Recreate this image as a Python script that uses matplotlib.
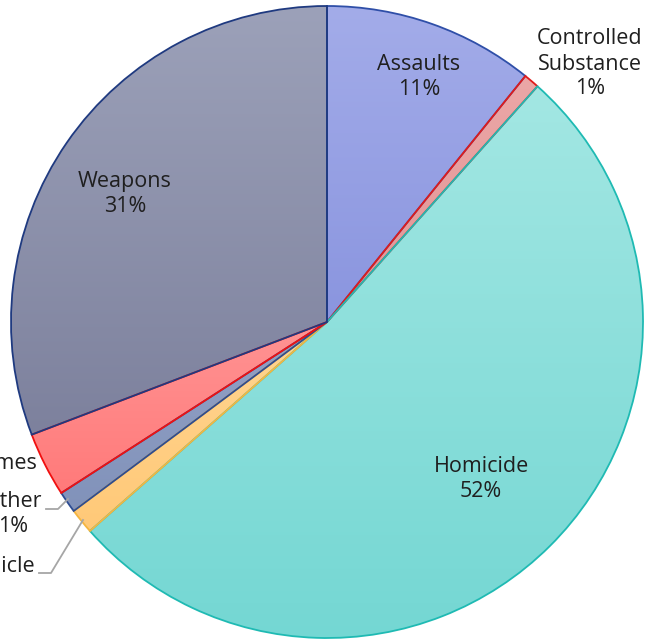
import numpy as np
import matplotlib
matplotlib.use("Agg")
import matplotlib.pyplot as plt
from matplotlib.colors import to_rgb

plt.rcParams['font.family'] = ['Open Sans', 'DejaVu Sans']

categories = ["Assaults", "Controlled\nSubstance", "Homicide", "Vehicle", "Other", "Sex Crimes", "Weapons"]
shares = [10.8, 0.8, 51.9, 1.3, 1.1, 3.3, 30.8]
pct_labels = ["11%", "1%", "52%", "1%", "1%", "3%", "31%"]

# top / bottom gradient colours and edge colour per slice
top_cols = ["#a3ace9", "#eba7a7", "#a3e7e3", "#ffd591", "#93a2c6", "#ff9393", "#9ca1b9"]
bot_cols = ["#8a95df", "#e39494", "#74d7d3", "#ffc978", "#8192ba", "#ff7a7a", "#7d819d"]
edge_cols = ["#2f4fa8", "#e01b1b", "#1fbab3", "#f5b640", "#2d4c92", "#f01010", "#1f3a80"]

W, H = 649, 639
fig = plt.figure(figsize=(W / 100, H / 100), dpi=100)
ax = fig.add_axes([0, 0, 1, 1])

cx, cy, r = 327, H - 322, 316
wedges, _ = ax.pie(shares, startangle=90, counterclock=False, center=(cx, cy), radius=r,
                   wedgeprops=dict(linewidth=1.3))

for w, tc, bc, ec in zip(wedges, top_cols, bot_cols, edge_cols):
    w.set_facecolor('none')
    w.set_edgecolor(ec)
    w.set_zorder(3)
    v = w.get_path().vertices
    x0, x1 = v[:, 0].min(), v[:, 0].max()
    y0, y1 = v[:, 1].min(), v[:, 1].max()
    t = np.linspace(0, 1, 200)[:, None, None]
    arr = (1 - t) * np.array(to_rgb(tc)) + t * np.array(to_rgb(bc))
    arr = np.repeat(arr, 2, axis=1)
    im = ax.imshow(arr, extent=(x0, x1, y0, y1), origin='upper', aspect='auto', zorder=2,
                   interpolation='bilinear')
    im.set_clip_path(w)

ax.set_xlim(0, W)
ax.set_ylim(0, H)
ax.set_aspect('equal')
ax.axis('off')

fs = 15.5
txt = '#1f1f1f'
kw = dict(fontsize=fs, color=txt, zorder=5, linespacing=1.25)
# labels inside / near the pie
ax.text(419, H - 77, categories[0] + "\n" + pct_labels[0], ha='center', va='center', **kw)
ax.text(590, H - 64, categories[1] + "\n" + pct_labels[1], ha='center', va='center', **kw)
ax.text(481, H - 479, categories[2] + "\n" + pct_labels[2], ha='center', va='center', **kw)
ax.text(125, H - 194, categories[6] + "\n" + pct_labels[6], ha='center', va='center', **kw)

# labels partly cut off on the left
ax.text(37, H - 476, categories[5] + "\n" + pct_labels[5], ha='right', va='center', multialignment='center', **kw)
ax.text(42, H - 514, categories[4] + "\n" + pct_labels[4], ha='right', va='center', multialignment='center', **kw)
ax.text(35, H - 566, categories[3], ha='right', va='center', **kw)

# leader lines
ax.plot([46, 58, 68], [H - 509, H - 509, H - 499], color='#a6a6a6', lw=1.3, zorder=4)
ax.plot([39, 51, 83], [H - 573, H - 573, H - 520], color='#a6a6a6', lw=1.3, zorder=4)

fig.savefig("out.png", dpi=100)
